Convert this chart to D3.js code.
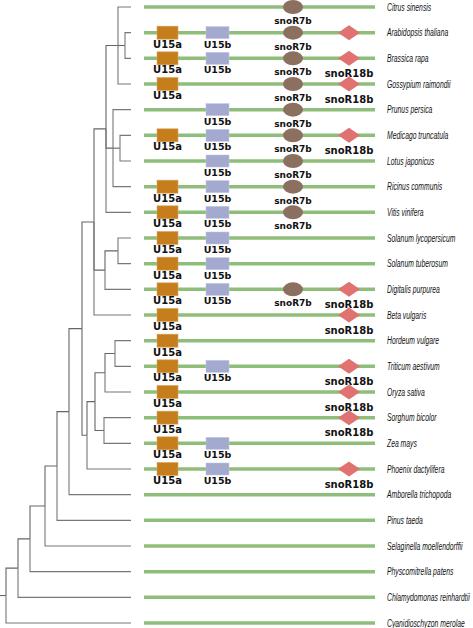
<!DOCTYPE html>
<html><head><meta charset="utf-8">
<script src="https://cdn.jsdelivr.net/npm/d3@7"></script>
<style>body{margin:0;background:#fff}svg{display:block}</style>
</head><body><svg id="c" width="473" height="628"></svg>
<script>
// ---------- DATA ----------
const treeNewick = "(((((((((((Citrus_sinensis:13,(Arabidopsis_thaliana:6,Brassica_rapa:6):7,Gossypium_raimondii:13):12,(Prunus_persica:18,(Medicago_truncatula:11,Lotus_japonicus:11):7,Ricinus_communis:18):7,Vitis_vinifera:25):12,((Solanum_lycopersicum:13,Solanum_tuberosum:13):13,Digitalis_purpurea:26):11,Beta_vulgaris:37):12,((((Hordeum_vulgare:16,Triticum_aestivum:16):10,Oryza_sativa:26):10,(Sorghum_bicolor:27,Zea_mays:27):9):8,Phoenix_dactylifera:44):5):13,Amborella_trichopoda:62):12,Pinus_taeda:74):12,Selaginella_moellendorffii:86):15,Physcomitrella_patens:101):12,Chlamydomonas_reinhardtii:113):12,Cyanidioschyzon_merolae:125):6;";

const species = ["Citrus sinensis","Arabidopsis thaliana","Brassica rapa","Gossypium raimondii","Prunus persica","Medicago truncatula","Lotus japonicus","Ricinus communis","Vitis vinifera","Solanum lycopersicum","Solanum tuberosum","Digitalis purpurea","Beta vulgaris","Hordeum vulgare","Triticum aestivum","Oryza sativa","Sorghum bicolor","Zea mays","Phoenix dactylifera","Amborella trichopoda","Pinus taeda","Selaginella moellendorffii","Physcomitrella patens","Chlamydomonas reinhardtii","Cyanidioschyzon merolae"];

const genes = ["U15a","U15b","snoR7b","snoR18b"];
const hasU15a    = [0,1,1,1,0,1,0,1,1,1,1,1,1,1,1,1,1,1,1,0,0,0,0,0,0];
const hasU15b    = [0,1,1,0,1,1,1,1,1,1,1,1,0,0,1,0,0,1,1,0,0,0,0,0,0];
const hasSnoR7b  = [1,1,1,1,1,1,1,1,1,0,0,1,0,0,0,0,0,0,0,0,0,0,0,0,0];
const hasSnoR18b = [0,1,1,1,0,1,0,0,0,0,0,1,1,0,1,1,1,0,1,0,0,0,0,0,0];
const unlabeled  = [["Arabidopsis thaliana","snoR18b"]];

// ---------- PARSE TREE ----------
function parseNewick(s){
  let i = 0;
  function node(){
    const n = {};
    if (s[i] === "("){
      i++; n.children = [];
      do { n.children.push(node()); } while (s[i++] === ",");
    }
    let name = "";
    while (i < s.length && !",():;".includes(s[i])) name += s[i++];
    n.name = name.replace(/_/g," ");
    if (s[i] === ":"){
      i++; let l = "";
      while (i < s.length && !",();".includes(s[i])) l += s[i++];
      n.length = +l;
    }
    return n;
  }
  return node();
}

const svg = d3.select("#c");
const root = d3.hierarchy(parseNewick(treeNewick));
root.each(d => { d.dist = (d.parent ? d.parent.dist : 0) + (d.data.length || 0); });
const maxDist = d3.max(root.leaves(), d => d.dist);

const y = d3.scalePoint().domain(species).range([7, 623]);
const xTree = d3.scaleLinear().domain([0, maxDist]).range([0, 131]);

root.eachAfter(d => {
  if (d.children) d.yy = (d.children[0].yy + d.children[d.children.length-1].yy) / 2;
  else d.yy = y(d.data.name);
  d.xx = xTree(d.dist);
});

// ---------- TREE ----------
const gTree = svg.append("g").attr("fill","none").attr("stroke","#6a6a6a").attr("stroke-width",1.1);
gTree.append("path").attr("d", `M${xTree(0)},${root.yy}H${root.xx}`);
root.descendants().filter(d => d.parent).forEach(d => {
  gTree.append("path")
    .attr("stroke", d.children ? "#666" : "#777")
    .attr("d", `M${d.parent.xx},${d.parent.yy}V${d.yy}H${d.xx}`);
});

// ---------- LOCUS LINES ----------
const xLine = d3.scaleLinear().domain([0,1]).range([144, 375]);
svg.append("g").selectAll("line").data(species).join("line")
  .attr("x1", xLine(0)).attr("x2", xLine(1))
  .attr("y1", d => y(d)).attr("y2", d => y(d))
  .attr("stroke", "#8fbe7a").attr("stroke-width", 3.5);

const xGene = d3.scaleOrdinal().domain(genes).range([167.5, 217.5, 293, 349]);
const presence = {U15a: hasU15a, U15b: hasU15b, snoR7b: hasSnoR7b, snoR18b: hasSnoR18b};
const items = [];
species.forEach((sp, i) => genes.forEach(g => {
  if (presence[g][i]) items.push({sp, g, label: !unlabeled.some(u => u[0]===sp && u[1]===g)});
}));

const gMarks = svg.append("g");
items.forEach(d => {
  const cx = xGene(d.g), cy = y(d.sp);
  if (d.g === "U15a") {
    gMarks.append("rect").attr("x", cx-10.5).attr("y", cy-6.5).attr("width", 21).attr("height", 13)
      .attr("fill", "#c67e1c").attr("stroke","#d9a35a").attr("stroke-width",0.6);
  } else if (d.g === "U15b") {
    gMarks.append("rect").attr("x", cx-11.5).attr("y", cy-6).attr("width", 23).attr("height", 12)
      .attr("fill", "#a3a9cf").attr("stroke","#c3c7e0").attr("stroke-width",0.6);
  } else if (d.g === "snoR7b") {
    gMarks.append("ellipse").attr("cx", cx).attr("cy", cy).attr("rx", 10).attr("ry", 7)
      .attr("fill", "#8b6f5f");
  } else {
    gMarks.append("path").attr("d", `M${cx-11},${cy}L${cx},${cy-7.5}L${cx+11},${cy}L${cx},${cy+7.5}Z`)
      .attr("fill", "#e07272");
  }
});

const labelOffset = {U15a: 11.5, U15b: 11.5, snoR7b: 14, snoR18b: 15};
const labelSize = {U15a: 10, U15b: 9.5, snoR7b: 9, snoR18b: 10};
svg.append("g").selectAll("text").data(items.filter(d => d.label)).join("text")
  .attr("x", d => xGene(d.g)).attr("y", d => y(d.sp) + labelOffset[d.g])
  .attr("text-anchor","middle").attr("dominant-baseline","central")
  .attr("font-family","DejaVu Sans, sans-serif").attr("font-weight","bold")
  .attr("font-size", d => labelSize[d.g]).attr("fill","#111")
  .text(d => d.g);

// ---------- SPECIES LABELS ----------
svg.append("g").selectAll("text").data(species).join("text")
  .attr("transform", d => `translate(387,${y(d)}) scale(0.68,1)`)
  .attr("dominant-baseline","central")
  .attr("font-family","Liberation Sans, Arial, sans-serif").attr("font-style","italic")
  .attr("font-size", 10).attr("fill","#111")
  .text(d => d);
</script></body></html>
